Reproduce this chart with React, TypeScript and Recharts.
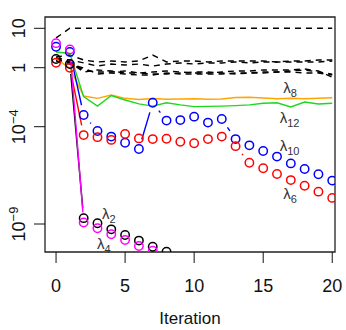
import { LineChart, Line, XAxis, YAxis, ReferenceArea, ReferenceDot, Label } from "recharts"

const iterations = [0, 1, 2, 3, 4, 5, 6, 7, 8, 9, 10, 11, 12, 13, 14, 15, 16, 17, 18, 19, 20]

// eigenvalue traces per iteration
const lambda1 = [5.7, 10, 10, 10, 10, 10, 10, 10, 10, 10, 10, 10, 10, 10, 10, 10, 10, 10, 10, 10, 10]
const lambda3 = [1.87, 2.1, 1.57, 1.4, 1.48, 1.4, 1.48, 2.1, 1.4, 1.48, 1.48, 1.4, 1.48, 1.48, 1.48, 1.48, 1.4, 1.48, 1.48, 1.57, 1.57]
const lambda5 = [1.76, 1.57, 1.32, 1.1, 1.24, 1.17, 1.24, 1.1, 1.24, 1.32, 1.24, 1.32, 1.32, 1.4, 1.32, 1.4, 1.4, 1.4, 1.4, 1.4, 1.48]
const lambda7 = [1.57, 1.32, 0.7, 0.51, 0.51, 0.6, 0.44, 0.37, 0.37, 0.44, 0.51, 0.51, 0.44, 0.37, 0.44, 0.51, 0.51, 0.6, 0.7, 0.51, 0.37]
const lambda9 = [1.66, 1.4, 0.51, 0.7, 0.6, 0.44, 0.44, 0.51, 0.6, 0.51, 0.44, 0.44, 0.51, 0.6, 0.6, 0.7, 0.7, 0.7, 0.82, 0.6, 0.23]
const lambda11 = [1.48, 1.24, 0.95, 0.37, 0.44, 0.37, 0.32, 0.32, 0.44, 0.37, 0.37, 0.37, 0.37, 0.44, 0.44, 0.44, 0.51, 0.51, 0.44, 0.44, 0.32]
const lambda8 = [1.7, 0.91, 1.2e-2, 8.4e-3, 1.4e-2, 8.4e-3, 7.0e-3, 8.2e-3, 7.2e-3, 7.6e-3, 7.9e-3, 7.2e-3, 7.6e-3, 9.5e-3, 1.0e-2, 8.8e-3, 7.9e-3, 8.4e-3, 7.9e-3, 8.4e-3, 9.2e-3]
const lambda12 = [2.5, 2.3, 1.1e-2, 2.5e-3, 1.3e-2, 6.5e-3, 3.5e-3, 2.5e-3, 4.2e-3, 3.0e-3, 2.3e-3, 2.4e-3, 2.5e-3, 2.7e-3, 3.0e-3, 3.9e-3, 4.2e-3, 2.2e-3, 4.7e-3, 3.5e-3, 3.9e-3]
const lambda10 = [3.4, 2.5, 6.2e-4, 6.0e-5, 3.1e-5, 1.5e-5, 7.1e-6, 4.2e-3, 2.6e-4, 2.8e-4, 4.8e-4, 1.9e-4, 3.3e-4, 2.3e-5, 1.1e-5, 5.6e-6, 2.9e-6, 1.3e-6, 6.7e-7, 3.6e-7, 1.7e-7]
const lambda6 = [1.34, 1.0, 3.7e-5, 2.9e-5, 2.1e-5, 4.2e-5, 2.5e-5, 2.3e-5, 2.4e-5, 1.7e-5, 1.4e-5, 2.3e-5, 3.1e-5, 1.0e-5, 1.4e-6, 7.3e-7, 3.7e-7, 1.8e-7, 9.3e-8, 4.6e-8, 2.2e-8]
const lambda2 = [1.66, 1.24, 2.0e-9, 1.1e-9, 5.3e-10, 2.7e-10, 1.4e-10, 6.8e-11, 3.8e-11, null, null, null, null, null, null, null, null, null, null, null, null]
const lambda4 = [4.2, 2.9, 1.2e-9, 6.0e-10, 3.0e-10, 1.5e-10, 7.4e-11, 4.2e-11, null, null, null, null, null, null, null, null, null, null, null, null, null]

const xTicks = [0, 5, 10, 15, 20]
const yTickValues = [10, 1, 1e-4, 1e-9]
const yTickLabels = [
  { base: "10", exp: "" },
  { base: "1", exp: "" },
  { base: "10", exp: "\u22124" },
  { base: "10", exp: "\u22129" },
]

// text annotations: [iteration, value, subscript]
const annotations: [number, number, string][] = [
  [16.45, 1.9e-2, "8"],
  [16.2, 1.8e-4, "12"],
  [16.2, 5.6e-6, "10"],
  [16.45, 1.9e-8, "6"],
  [3.33, 1.8e-9, "2"],
  [2.97, 5.2e-11, "4"],
]

// the value axis is stretched unevenly between its labelled decades,
// so positions are interpolated between these (log10, position) knots
const yKnots: [number, number][] = [[1, 0], [0, -39.4], [-4, -98.4], [-9, -195.7]]

function toAxis(v: number | null) {
  if (v == null) return null
  const e = Math.log10(v)
  let i = 0
  while (i < yKnots.length - 2 && e < yKnots[i + 1][0]) i++
  const [e0, p0] = yKnots[i]
  const [e1, p1] = yKnots[i + 1]
  return p0 + ((e - e0) * (p1 - p0)) / (e1 - e0)
}

const Y_DOMAIN: [number, number] = [-223.7, 11.3]
const X_DOMAIN: [number, number] = [-0.8, 20.2]

const series = [
  { key: "l1", values: lambda1, color: "#000", style: "dash" },
  { key: "l3", values: lambda3, color: "#000", style: "dash" },
  { key: "l5", values: lambda5, color: "#000", style: "dash" },
  { key: "l7", values: lambda7, color: "#000", style: "dash" },
  { key: "l9", values: lambda9, color: "#000", style: "dash" },
  { key: "l11", values: lambda11, color: "#000", style: "dash" },
  { key: "l8", values: lambda8, color: "#ffa500", style: "line" },
  { key: "l12", values: lambda12, color: "#1ed81e", style: "line" },
  { key: "l10", values: lambda10, color: "#0000ff", style: "both" },
  { key: "l6", values: lambda6, color: "#ff0000", style: "both" },
  { key: "l2", values: lambda2, color: "#000", style: "both" },
  { key: "l4", values: lambda4, color: "#ff00ff", style: "both" },
]

const rows = iterations.map((it, i) => {
  const row: Record<string, number | null> = { it }
  series.forEach((s) => {
    row[s.key] = toAxis(s.values[i])
  })
  return row
})

// like R's type="b": segments stop short of each point, leaving a gap
const gappedCurve = (gap: number) => (context: any) => {
  let prev: [number, number] | null = null
  return {
    areaStart() {},
    areaEnd() {},
    lineStart() {
      prev = null
    },
    lineEnd() {},
    point(x: number, y: number) {
      x = +x
      y = +y
      if (prev) {
        const dx = x - prev[0]
        const dy = y - prev[1]
        const d = Math.hypot(dx, dy)
        if (d > 2 * gap) {
          const ux = dx / d
          const uy = dy / d
          context.moveTo(prev[0] + ux * gap, prev[1] + uy * gap)
          context.lineTo(x - ux * gap, y - uy * gap)
        }
      }
      prev = [x, y]
    },
  }
}

const FONT = "'Liberation Sans', Arial, Helvetica, sans-serif"

function YTick(props: any) {
  const { x, y, payload } = props
  const idx = yTickValues.findIndex((v) => Math.abs((toAxis(v) as number) - payload.value) < 1e-6)
  const lab = yTickLabels[idx] || { base: "", exp: "" }
  return (
    <text
      x={x}
      y={y}
      transform={`rotate(-90 ${x} ${y})`}
      textAnchor="middle"
      fontSize={18}
      fontFamily={FONT}
      fill="#111"
    >
      <tspan>{lab.base}</tspan>
      {lab.exp && (
        <tspan fontSize={13} dy={-7}>
          {lab.exp}
        </tspan>
      )}
    </text>
  )
}

function LambdaLabel({ cx, cy, sub }: any) {
  return (
    <text x={cx} y={cy} fontSize={15} fontFamily={FONT} fill="#333">
      <tspan>λ</tspan>
      <tspan fontSize={11} dy={4}>
        {sub}
      </tspan>
    </text>
  )
}

export default function App() {
  return (
    <div style={{ position: "absolute", left: 0, top: 0, background: "#fff" }}>
      <LineChart
        width={346}
        height={330}
        data={rows}
        margin={{ top: 17, right: 11, left: 0, bottom: 0 }}
      >
        <XAxis
          dataKey="it"
          type="number"
          domain={X_DOMAIN}
          allowDataOverflow
          ticks={xTicks}
          height={78}
          axisLine={false}
          tickSize={11}
          tickMargin={16}
          stroke="#111"
          tick={{ fill: "#111", fontSize: 18, fontFamily: FONT }}
        >
          <Label
            value="Iteration"
            position="insideBottom"
            offset={6}
            style={{ fill: "#111", fontSize: 17, fontFamily: FONT }}
          />
        </XAxis>
        <YAxis
          type="number"
          domain={Y_DOMAIN}
          allowDataOverflow
          ticks={yTickValues.map((v) => toAxis(v) as number)}
          width={45}
          axisLine={false}
          tickSize={11}
          tickMargin={9}
          stroke="#111"
          tick={<YTick />}
        />
        <ReferenceArea
          x1={X_DOMAIN[0]}
          x2={X_DOMAIN[1]}
          y1={Y_DOMAIN[0]}
          y2={Y_DOMAIN[1]}
          fill="none"
          stroke="#222"
          strokeWidth={1.3}
          ifOverflow="visible"
        />
        {series.map((s) =>
          s.style === "both" ? (
            <Line
              key={s.key}
              dataKey={s.key}
              type={gappedCurve(10) as any}
              stroke={s.color}
              strokeWidth={1.4}
              dot={{ r: 4.2, stroke: s.color, strokeWidth: 1.5, fill: "none" }}
              activeDot={false}
              isAnimationActive={false}
            />
          ) : (
            <Line
              key={s.key}
              dataKey={s.key}
              type="linear"
              stroke={s.color}
              strokeWidth={1.4}
              strokeDasharray={s.style === "dash" ? "6 5" : undefined}
              dot={false}
              activeDot={false}
              isAnimationActive={false}
            />
          )
        )}
        {annotations.map(([x, v, sub]) => (
          <ReferenceDot
            key={sub}
            x={x}
            y={toAxis(v) as number}
            r={0}
            ifOverflow="visible"
            shape={(p: any) => <LambdaLabel cx={p.cx} cy={p.cy} sub={sub} />}
          />
        ))}
      </LineChart>
    </div>
  )
}
